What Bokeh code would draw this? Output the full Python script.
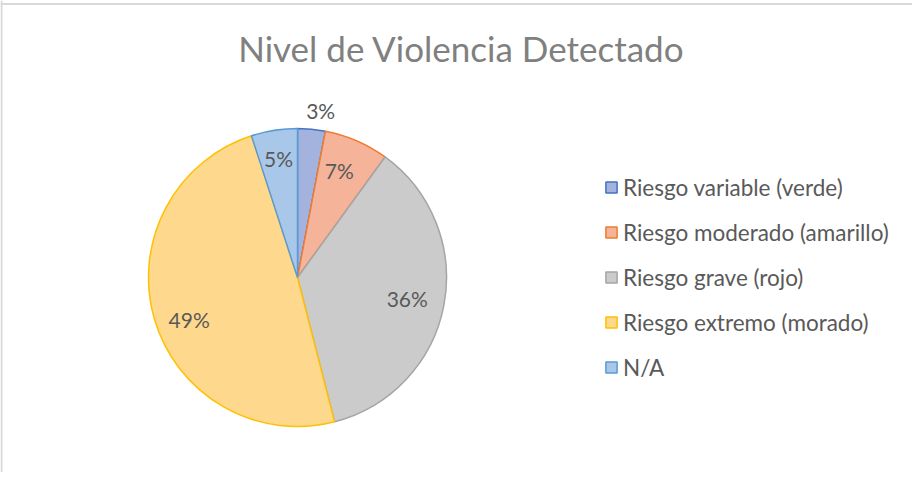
import math
from bokeh.plotting import figure
from bokeh.models import Range1d, Legend, LegendItem, Label, Span, ColumnDataSource
from bokeh.core.properties import value
from bokeh.embed import file_html
from bokeh.resources import INLINE

categories = ["Riesgo variable (verde)", "Riesgo moderado (amarillo)", "Riesgo grave (rojo)",
              "Riesgo extremo (morado)", "N/A"]
values = [3, 7, 36, 49, 5]
labels = ["3%", "7%", "36%", "49%", "5%"]

fill_colors = ["#A4B3DE", "#F5B39A", "#CBCBCB", "#FED88D", "#A9C7E9"]
line_colors = ["#4472C4", "#ED7D31", "#A5A5A5", "#FFC000", "#5B9BD5"]
label_radius_factor = [1.13, 0.77, 0.75, 0.78, 0.81]
label_angle_shift = [2.5, -2.0, 0.0, -5.0, 0.0]  # degrees, label placement tweak

W, H = 912, 472
p = figure(width=W, height=H, output_backend="svg", toolbar_location=None,
           x_range=Range1d(0, W), y_range=Range1d(0, H), min_border=0)
p.axis.visible = False
p.grid.visible = False
p.outline_line_color = None
p.background_fill_color = "white"

cx, cy, R = 297, 195, 149

total = sum(values)
starts, ends, lx, ly = [], [], [], []
cum = 0.0
for i, v in enumerate(values):
    a0 = cum / total
    cum += v
    a1 = cum / total
    starts.append(math.pi / 2 - 2 * math.pi * a0)
    ends.append(math.pi / 2 - 2 * math.pi * a1)
    mid = 2 * math.pi * (a0 + a1) / 2 + math.radians(label_angle_shift[i])
    r = R * label_radius_factor[i]
    lx.append(cx + r * math.sin(mid))
    ly.append(cy + r * math.cos(mid))

src = ColumnDataSource(dict(lx=lx, ly=ly, lab=labels))

items = []
for i in range(len(values)):
    r = p.wedge(x=cx, y=cy, radius=R, radius_units="screen",
                start_angle=starts[i], end_angle=ends[i], direction="clock",
                fill_color=fill_colors[i], line_color=line_colors[i], line_width=1.5)
    items.append(LegendItem(label=categories[i], renderers=[r]))

p.text(x="lx", y="ly", text="lab", source=src, text_align="center", text_baseline="middle",
       text_font_size="21px", text_color="#595959", text_font=value("Lato"))

legend = Legend(items=items, location=(604, 90), orientation="vertical",
                label_text_font="Lato", label_text_font_size="22.5px", label_text_color="#595959",
                glyph_width=14, glyph_height=14, label_standoff=5, label_height=30, spacing=15,
                padding=0, margin=0, border_line_color=None, background_fill_alpha=0)
p.add_layout(legend, "center")

p.add_layout(Label(x=461, y=425, text="Nivel de Violencia Detectado", text_align="center",
                   text_baseline="middle", text_font="Lato", text_font_size="35px",
                   text_color="#808080"))

p.add_layout(Span(location=468.5, dimension="width", line_color="#D9D9D9", line_width=2))
p.add_layout(Span(location=1, dimension="height", line_color="#D9D9D9", line_width=2))

open("out.html", "w").write(file_html(p, INLINE))
